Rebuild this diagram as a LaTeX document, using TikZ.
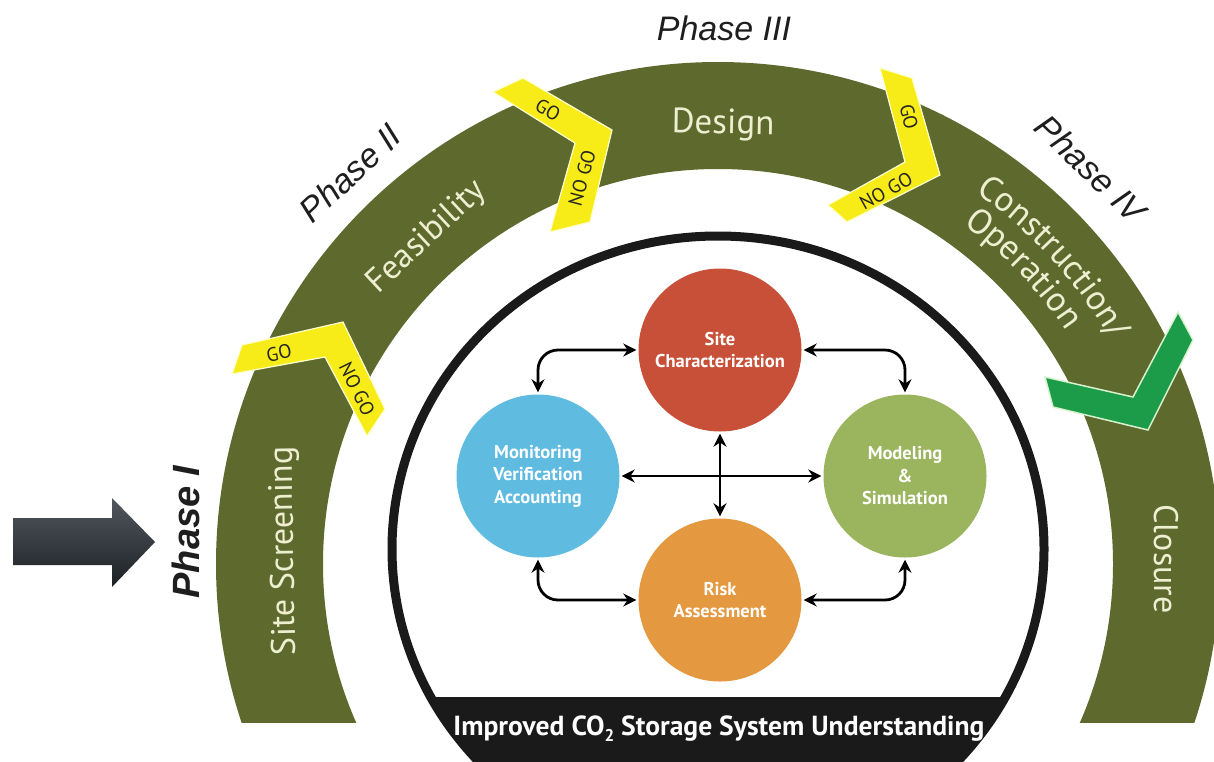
\documentclass[tikz,border=0pt]{standalone}
\usepackage{fontspec}
\setmainfont{PT Sans}
\newfontfamily\arialf{Liberation Sans}
\usetikzlibrary{arrows.meta,decorations.text}
\definecolor{bandgreen}{RGB}{94,105,46}
\definecolor{cream}{RGB}{238,238,208}
\definecolor{goyellow}{RGB}{247,236,23}
\definecolor{paleyellow}{RGB}{255,255,205}
\definecolor{checkgreen}{RGB}{28,155,72}
\definecolor{checkedge}{RGB}{215,242,205}
\definecolor{scred}{RGB}{200,80,56}
\definecolor{mvablue}{RGB}{96,187,225}
\definecolor{msgreen}{RGB}{155,181,95}
\definecolor{raorange}{RGB}{228,152,64}
\definecolor{archblack}{RGB}{26,26,26}
\definecolor{phasegray}{RGB}{30,30,30}
\definecolor{arrtop}{RGB}{80,88,94}
\definecolor{arrbot}{RGB}{28,32,36}
\begin{document}
\begin{tikzpicture}[x=1pt,y=-1pt,
  archlabel/.style={text=cream, font=\fontsize{34}{34}\selectfont, inner sep=0pt},
  phase/.style={text=phasegray, font=\arialf\itshape\fontsize{34}{38}\selectfont, inner sep=0pt},
  gochev/.style={fill=goyellow, draw=paleyellow, line width=1.2pt, line join=miter},
  golabel/.style={text=black!85, font=\fontsize{19.5}{20}\selectfont, inner sep=0pt},
  checkshape/.style={fill=checkgreen, draw=checkedge, line width=1.5pt},
  bubble/.style={circle, minimum size=163pt, inner sep=0pt, text=white, align=center, font=\bfseries\fontsize{18.5}{22.5}\selectfont},
  biarrow/.style={line width=2.8pt, {Stealth[length=13pt,width=13pt]}-{Stealth[length=13pt,width=13pt]}, rounded corners=20pt, shorten >=2pt, shorten <=2pt}
]
\useasboundingbox (0,0) rectangle (1214,761);
\fill[white] (0,0) rectangle (1214,761);

% green band
\begin{scope}
  \clip (0,0) rectangle (1214,722);
  \fill[bandgreen, even odd rule] (718,564) circle (502pt) (718,564) circle (395pt);
\end{scope}

% black inner arch
\begin{scope}
  \clip (718,549) ellipse (326pt and 313pt);
  \fill[archblack] (380,697) rectangle (1060,770);
\end{scope}
\draw[archblack, line width=9pt] (718,549) ellipse (326pt and 313pt);
\node[text=white, font=\bfseries\fontsize{27.6}{29}\selectfont, inner sep=0pt] (understanding) at (719,729)
  {Improved CO\raisebox{-0.22em}{\fontsize{17}{18}\selectfont 2} Storage System Understanding};

% arch labels
\node[archlabel, rotate=91] (screening) at (285,551) {Site Screening};
\node[archlabel, rotate=43] (feasibility) at (427,237) {Feasibility};
\node[archlabel, rotate=-1, font=\fontsize{35}{35}\selectfont] (design) at (723,125) {Design};
\node[archlabel, rotate=-90] (closure) at (1166,559) {Closure};
\begin{scope}[y=1pt]
  \path[decorate, decoration={text along path, text color=cream, text align=center,
      text={|\fontsize{35}{35}\selectfont|Construction/}}]
    (718,-564) ++(72:452pt) arc[start angle=72, end angle=13, radius=452pt];
  \path[decorate, decoration={text along path, text color=cream, text align=center,
      text={|\fontsize{35}{35}\selectfont|Operation}}]
    (718,-564) ++(74:419pt) arc[start angle=74, end angle=14, radius=419pt];
\end{scope}

% phase labels
\node[phase] (p3) at (724,28) {Phase III};
\node[phase, rotate=43] (p2) at (350,173) {Phase II};
\node[phase, rotate=-44] (p4) at (1091,169) {Phase IV};
\node[phase, font=\arialf\bfseries\itshape\fontsize{38}{40}\selectfont, rotate=90] (p1) at (186,532) {Phase I};

% left arrow
\shade[top color=arrtop, bottom color=arrbot] (13,518) -- (112,518) -- (112,498) -- (155,542) -- (112,587) -- (112,565) -- (13,565) -- cycle;

% GO / NO GO chevrons
\draw[gochev] (242,345) -- (343,322) -- (385,409) -- (367,436) -- (325,357) -- (232,374) -- cycle;
\node[golabel, rotate=11] (go1) at (279,353) {GO};
\node[golabel, rotate=-64] (nogo1) at (357,389) {NO GO};

\draw[gochev] (523,78) -- (612,130) -- (590,222) -- (550,232) -- (575,143) -- (493,92) -- cycle;
\node[golabel, rotate=-30] (go2) at (548,110) {GO};
\node[golabel, rotate=75] (nogo2) at (582,178) {NO GO};

\draw[gochev] (880,68) -- (912,78) -- (940,175) -- (847,222) -- (828,205) -- (905,162) -- cycle;
\node[golabel, rotate=-76] (go3) at (909,117) {GO};
\node[golabel, rotate=29] (nogo3) at (886,191) {NO GO};

% check mark
\draw[checkshape] (1045,377) -- (1133,397) -- (1178,312) -- (1193,340) -- (1148,430) -- (1053,407) -- cycle;

% circles
\node[bubble, fill=scred] (sc) at (720,350) {Site\\Characterization};
\node[bubble, fill=mvablue] (mva) at (538,476) {Monitoring\\Verification\\Accounting};
\node[bubble, fill=msgreen] (ms) at (905,476) {Modeling\\\&\\Simulation};
\node[bubble, fill=raorange] (ra) at (720,600) {Risk\\Assessment};

% connectors
\draw[biarrow] (sc.west) -| (mva.north);
\draw[biarrow] (sc.east) -| (ms.north);
\draw[biarrow] (mva.south) |- (ra.west);
\draw[biarrow] (ms.south) |- (ra.east);
\draw[biarrow] (mva.east) -- (ms.west);
\draw[biarrow] (sc.south) -- (ra.north);
\end{tikzpicture}
\end{document}
